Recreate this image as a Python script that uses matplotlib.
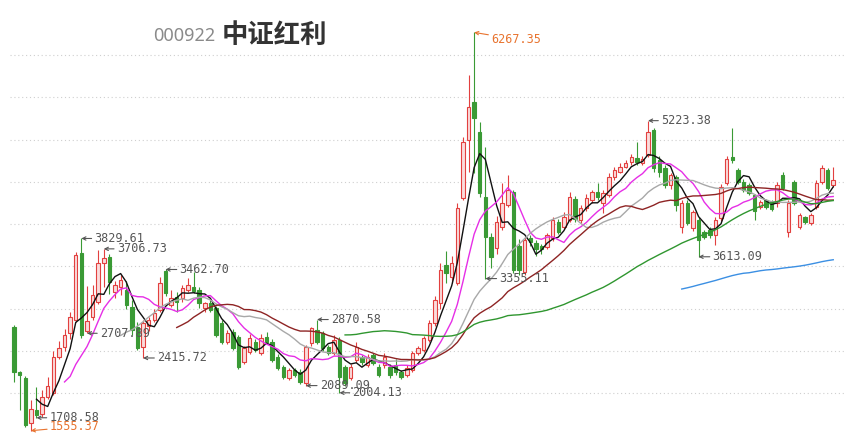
#!/usr/bin/env python3
"""CSI Dividend (000922) candlestick chart with moving averages."""

import matplotlib

matplotlib.use("Agg")
import matplotlib.pyplot as plt
import numpy as np

plt.rcParams["font.family"] = ["Noto Sans CJK SC", "DejaVu Sans"]

opens = [
    2782, 2250, 2179, 1647, 1800, 1753, 1950, 2000, 2427, 2546,
    2711, 2865, 3658, 2735, 2901, 3078, 3540, 3610, 3196, 3255,
    3220, 3019, 2782, 2546, 2795, 2870, 2983, 3440, 3042, 3140,
    3125, 3220, 3260, 3220, 3007, 3066, 3007, 2830, 2605, 2723,
    2664, 2368, 2487, 2605, 2475, 2664, 2605, 2427, 2309, 2179,
    2270, 2250, 2120, 2593, 2747, 2711, 2546, 2475, 2629, 2309,
    2179, 2392, 2427, 2333, 2451, 2309, 2333, 2309, 2330, 2250,
    2215, 2274, 2475, 2510, 2629, 2830, 3066, 3520, 3374, 3303,
    4308, 4995, 5444, 5089, 4320, 3847, 3717, 3965, 4225, 4380,
    3740, 3433, 3840, 3776, 3740, 3730, 3835, 4024, 3965, 4048,
    4300, 4048, 4190, 4285, 4380, 4249, 4344, 4557, 4616, 4680,
    4734, 4780, 4720, 4817, 5113, 4758, 4663, 4462, 4557, 3965,
    4249, 3954, 4048, 3906, 3930, 3871, 4072, 4486, 4793, 4640,
    4498, 4462, 4344, 4200, 4280, 4260, 4249, 4580, 3906, 4498,
    3965, 4084, 4013, 4202, 4498, 4640, 4462,
]
highs = [
    2806, 2262, 2200, 1919, 2072, 2037, 2190, 2500, 2620, 2760,
    2960, 3670, 3829.61, 3267, 3279, 3690, 3706.73, 3640, 3326, 3397,
    3330, 3101, 2841, 2865, 2900, 3000, 3374, 3462.70, 3220, 3196,
    3280, 3362, 3433, 3260, 3080, 3100, 3030, 2870, 2750, 2760,
    2690, 2560, 2700, 2640, 2700, 2720, 2640, 2460, 2330, 2300,
    2300, 2280, 2570, 2780, 2870.58, 2740, 2570, 2690, 2660, 2330,
    2340, 2600, 2450, 2460, 2480, 2340, 2470, 2340, 2400, 2270,
    2330, 2500, 2560, 2680, 2870, 3150, 3540, 3680, 3620, 4249,
    5030, 5763, 6267.35, 5207, 4912, 3900, 4100, 4486, 4580, 4400,
    3820, 3850, 3870, 3810, 3760, 3900, 4080, 4060, 4140, 4380,
    4330, 4220, 4360, 4400, 4486, 4400, 4600, 4680, 4720, 4760,
    4830, 4971, 4800, 5223.38, 5140, 4800, 4700, 4600, 4580, 4280,
    4280, 4170, 4080, 3930, 3960, 4080, 4470, 4800, 5136, 4660,
    4530, 4490, 4360, 4290, 4300, 4280, 4500, 4620, 4285, 4520,
    4130, 4100, 4130, 4520, 4700, 4660, 4675,
]
lows = [
    2132, 1800, 1600, 1555.37, 1708.58, 1718, 1930, 1980, 2400, 2500,
    2640, 2840, 2650, 2707.89, 2860, 3050, 3250, 3170, 3125, 3160,
    2995, 2688, 2510, 2415.72, 2740, 2840, 2960, 3149, 3019, 2960,
    3080, 3196, 3180, 3010, 2960, 2960, 2660, 2580, 2580, 2510,
    2290, 2340, 2460, 2490, 2450, 2590, 2370, 2270, 2170, 2160,
    2190, 2110, 2089.09, 2560, 2580, 2500, 2450, 2450, 2004.13, 2090,
    2150, 2370, 2330, 2310, 2330, 2190, 2300, 2180, 2220, 2170,
    2190, 2250, 2450, 2490, 2600, 2800, 3000, 3300, 3300, 3280,
    4280, 4616, 4600, 4320, 3355.11, 3480, 3650, 3930, 4200, 3420,
    3400, 3400, 3740, 3620, 3640, 3700, 3800, 3880, 3940, 4020,
    4030, 4010, 4160, 4250, 4290, 4130, 4320, 4520, 4600, 4660,
    4700, 4700, 4700, 4790, 4620, 4560, 4430, 4420, 4150, 3900,
    3990, 3920, 3613.09, 3820, 3840, 3752, 4040, 4460, 4720, 4470,
    4380, 4340, 4050, 4180, 4180, 4160, 4200, 4400, 3850, 4230,
    3940, 4000, 3990, 4180, 4470, 4400, 4440,
]
closes = [
    2250, 2215, 1623, 1812, 1741, 1954, 2080, 2427, 2534, 2688,
    2901, 3634, 2688, 2853, 3161, 3540, 3600, 3315, 3279, 3338,
    3043, 2747, 2534, 2830, 2865, 2950, 3303, 3180, 3125, 3080,
    3244, 3280, 3210, 3066, 3066, 2983, 2688, 2605, 2711, 2534,
    2309, 2534, 2652, 2510, 2652, 2605, 2392, 2298, 2191, 2274,
    2220, 2132, 2546, 2770, 2605, 2534, 2475, 2629, 2191, 2120,
    2309, 2546, 2368, 2427, 2356, 2215, 2427, 2215, 2250, 2191,
    2298, 2475, 2534, 2652, 2830, 3100, 3457, 3420, 3540, 4190,
    4971, 5385, 5255, 4368, 3847, 3610, 4024, 4249, 4403, 3457,
    3457, 3811, 3790, 3700, 3700, 3871, 4048, 3906, 4084, 4320,
    4060, 4190, 4308, 4380, 4320, 4368, 4557, 4640, 4675, 4720,
    4793, 4740, 4770, 5089, 4663, 4616, 4462, 4580, 4225, 4249,
    4013, 4143, 3811, 3847, 3870, 4048, 4439, 4770, 4758, 4498,
    4403, 4368, 4150, 4260, 4200, 4180, 4462, 4427, 4249, 4249,
    4107, 4024, 4107, 4486, 4663, 4427, 4521,
]

ma_periods = [5, 10, 20, 30, 60, 120]
ma_colors = ["#111111", "#e62ee6", "#a8a8a8", "#8e2424", "#2f962f", "#3b8fe3"]

# (index, value, colour, text offset in pixels)
marks = [
    (82, 6267.35, "#e8732e", (17, -7)),
    (3, 1555.37, "#e8732e", (19, 4)),
    (4, 1708.58, "#555555", (13, 0)),
    (12, 3829.61, "#555555", (13, 0)),
    (16, 3706.73, "#555555", (13, 0)),
    (13, 2707.89, "#555555", (13, 0)),
    (23, 2415.72, "#555555", (14, 0)),
    (27, 3462.70, "#555555", (14, 0)),
    (54, 2870.58, "#555555", (14, 0)),
    (52, 2089.09, "#555555", (14, 0)),
    (58, 2004.13, "#555555", (13, 0)),
    (84, 3355.11, "#555555", (14, 0)),
    (113, 5223.38, "#555555", (13, 0)),
    (122, 3613.09, "#555555", (14, 0)),
]

grid_levels = [2000, 2500, 3000, 3500, 4000, 4500, 5000, 5500, 6000]


def main() -> None:
    o = np.asarray(opens, dtype=float)
    h = np.asarray(highs, dtype=float)
    lo = np.asarray(lows, dtype=float)
    c = np.asarray(closes, dtype=float)
    x = np.arange(len(c))
    up = c >= o

    fig = plt.figure(figsize=(8.54, 4.46), dpi=100)
    ax = fig.add_axes([0, 0, 1, 1])
    ax.set_axis_off()
    ax.set_xlim(-2.5, 149.7)
    ax.set_ylim(1374.5, 6650.7)

    for level in grid_levels:
        ax.axhline(level, xmin=10 / 854, xmax=846 / 854, color="#cfcfcf",
                   linestyle=(0, (1, 2.5)), linewidth=0.8, zorder=0)

    red_edge, red_face, green = "#e2403f", "#fadcdc", "#3a9a35"
    ax.vlines(x[up], lo[up], h[up], color=red_edge, linewidth=0.8, zorder=2)
    ax.vlines(x[~up], lo[~up], h[~up], color=green, linewidth=0.8, zorder=2)
    body_lo = np.minimum(o, c)
    body_h = np.maximum(np.abs(c - o), 10)
    ax.bar(x[up], body_h[up], bottom=body_lo[up], width=0.62, color=red_face,
           edgecolor=red_edge, linewidth=0.8, zorder=3)
    ax.bar(x[~up], body_h[~up], bottom=body_lo[~up], width=0.62, color=green,
           edgecolor=green, linewidth=0.8, zorder=3)

    for period, color in zip(ma_periods, ma_colors):
        if len(c) < period:
            continue
        ma = np.convolve(c, np.ones(period) / period, mode="valid")
        ax.plot(x[period - 1:], ma, color=color, linewidth=1.0, zorder=4)

    for idx, value, color, offset in marks:
        ax.annotate(
            f"{value:.2f}", xy=(idx, value), xytext=offset, textcoords="offset pixels",
            ha="left", va="center", fontsize=8.5, color=color, family="DejaVu Sans Mono",
            arrowprops=dict(arrowstyle="->", color=color, lw=0.8, shrinkA=0, shrinkB=0,
                            mutation_scale=6),
            zorder=5,
        )

    fig.text(153 / 854, 1 - 36 / 446, "000922", fontsize=13, color="#8a8a8a",
             va="center", ha="left", family=["Noto Sans", "DejaVu Sans"])
    fig.text(222 / 854, 1 - 35 / 446, "中证红利", fontsize=19, color="#333333",
             fontweight="bold", va="center", ha="left")

    fig.savefig("out.png", dpi=100)
    plt.close(fig)


if __name__ == "__main__":
    main()
